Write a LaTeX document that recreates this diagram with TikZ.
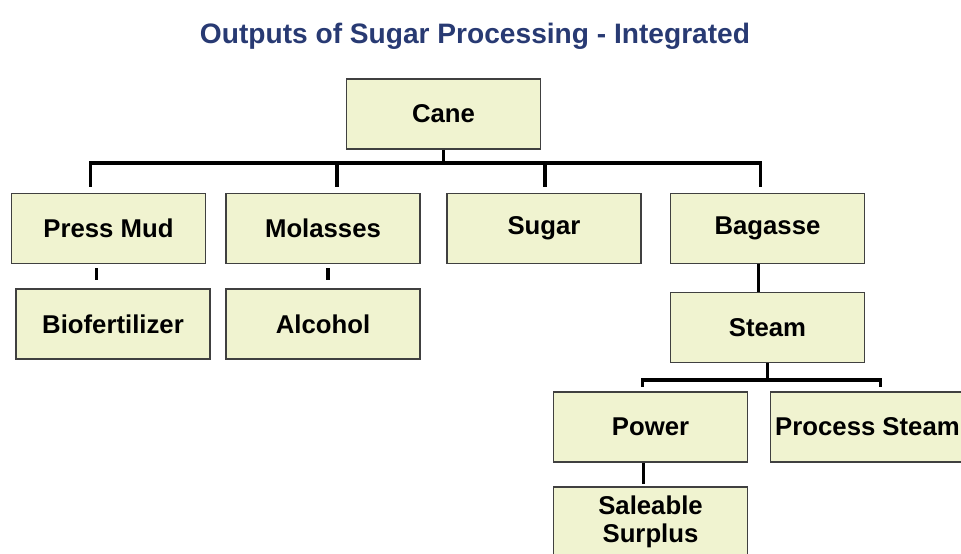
\documentclass[tikz,border=0pt]{standalone}
\usepackage{fontspec}
\setmainfont{Liberation Sans}
\usetikzlibrary{positioning, calc}
\definecolor{ctitle}{RGB}{40,58,115}
\definecolor{cbox}{RGB}{240,243,208}
\definecolor{cedge}{RGB}{64,64,64}

\begin{document}
\begin{tikzpicture}[x=0.025cm, y=-0.025cm,
    box/.style={draw=cedge, line width=0.8pt, fill=cbox, align=center, inner sep=0pt,
      minimum width=4.85cm, minimum height=1.75cm, font=\fontsize{18.3}{20}\selectfont\bfseries},
    link/.style={line width=2.8pt, black}]

  \useasboundingbox (0,0) rectangle (961,553);

  \node[font=\fontsize{20}{24}\selectfont\bfseries, text=ctitle] (title) at (475,36)
    {Outputs of Sugar Processing - Integrated};

  \node[box] (cane) at (443.5,114) {Cane};

  % first level
  \node[box] (pressmud) at (108.5,228.5) {Press Mud};
  \node[box] (molasses) at (323,228.5)  {Molasses};
  \node[box] (sugar)    at (544,228.5)  {Sugar};
  \node[box] (bagasse)  at (767.5,228.5) {Bagasse};

  % second level
  \node[box] (biofert) at (113,324)   {Biofertilizer};
  \node[box] (alcohol) at (323,324)   {Alcohol};
  \node[box] (steam)   at (767.5,327.5) {Steam};

  % steam split
  \node[box] (power)   at (650.5,427) {Power};
  \node[box] (process) at (867.5,427) {Process Steam};
  \node[box] (surplus) at (650.5,522) {Saleable\\Surplus};

  % bus under cane
  \coordinate (bus) at ($(cane.south)+(0,13)$);
  \draw[link] (cane.south) -- (bus);
  \draw[link, shorten >=0.15cm] (bus) -| ($(pressmud.north)+(-18,0)$);
  \draw[link, shorten >=0.15cm] (bus) -| ($(molasses.north)+(14,0)$);
  \draw[link, shorten >=0.15cm] (bus) -| ($(sugar.north)+(1,0)$);
  \draw[link, shorten >=0.15cm] (bus) -| ($(bagasse.north)+(-7,0)$);

  \draw[link, shorten <=0.1cm, shorten >=0.2cm] ($(pressmud.south)+(-12,0)$) -- ($(pressmud.south |- biofert.north)+(-12,0)$);
  \draw[link, shorten <=0.1cm, shorten >=0.2cm] ($(molasses.south)+(5,0)$) -- ($(alcohol.north)+(5,0)$);
  \draw[link] ($(bagasse.south)+(-9,0)$) -- ($(steam.north)+(-9,0)$);

  % bus under steam
  \coordinate (sbus) at ($(steam.south)+(0,17)$);
  \draw[link] (steam.south) -- (sbus);
  \draw[link, shorten >=0.1cm] (sbus) -| ($(power.north)+(-8,0)$);
  \draw[link, shorten >=0.1cm] (sbus) -| ($(process.north)+(13,0)$);
  \draw[link, shorten >=0.05cm] ($(power.south)+(-7,0)$) -- ($(surplus.north)+(-7,0)$);
\end{tikzpicture}
\end{document}
